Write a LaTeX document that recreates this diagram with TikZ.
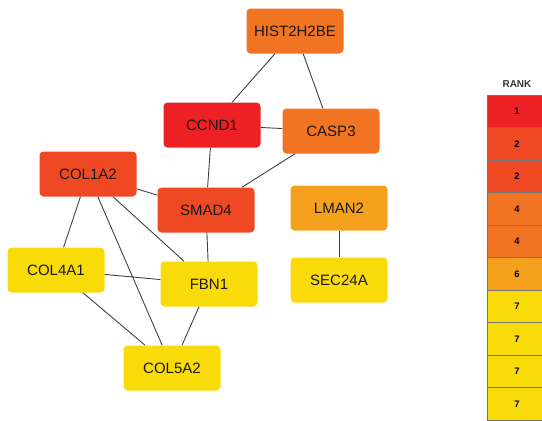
\documentclass[tikz,border=0pt]{standalone}
\usepackage{fontspec}
\setmainfont{Liberation Sans}
\usepackage{tikz}
\usetikzlibrary{positioning}

\definecolor{rankone}{HTML}{ED2024}
\definecolor{ranktwo}{HTML}{EE4923}
\definecolor{rankfour}{HTML}{F17423}
\definecolor{ranksix}{HTML}{F6A11E}
\definecolor{rankseven}{HTML}{FADB0A}

\begin{document}
\begin{tikzpicture}[x=1pt, y=-1pt,
	gene/.style={rounded corners=4pt, minimum width=97pt, minimum height=45pt, font=\fontsize{15}{15}\selectfont, text=black!90},
	link/.style={draw=black!75, line width=0.9pt},
	cell/.style={draw=black!55, line width=0.7pt, minimum width=60pt, minimum height=32.5pt, font=\bfseries\fontsize{9.5}{9.5}\selectfont, inner sep=0pt}]

\useasboundingbox (0,0) rectangle (542,421);
\clip (0,0) rectangle (542,421);

\node [gene, fill=rankfour] (HIST2H2BE) at (295,31) {HIST2H2BE};
\node [gene, fill=rankone] (CCND1) at (212,125) {CCND1};
\node [gene, fill=rankfour] (CASP3) at (331,131) {CASP3};
\node [gene, fill=ranktwo] (COL1A2) at (88,174) {COL1A2};
\node [gene, fill=ranktwo] (SMAD4) at (206,210) {SMAD4};
\node [gene, fill=ranksix] (LMAN2) at (339,208) {LMAN2};
\node [gene, fill=rankseven] (SEC24A) at (339,280) {SEC24A};
\node [gene, fill=rankseven] (COL4A1) at (56,270) {COL4A1};
\node [gene, fill=rankseven] (FBN1) at (209,284) {FBN1};
\node [gene, fill=rankseven] (COL5A2) at (172,368) {COL5A2};

\path [link] (HIST2H2BE) -- (CCND1);
\path [link] (HIST2H2BE) -- (CASP3);
\path [link] (CCND1) -- (CASP3);
\path [link] (CCND1) -- (SMAD4);
\path [link] (CASP3) -- (SMAD4);
\path [link] (COL1A2) -- (SMAD4);
\path [link] (SMAD4) -- (FBN1);
\path [link] (COL1A2) -- (COL4A1);
\path [link] (COL1A2) -- (FBN1);
\path [link] (COL1A2) -- (COL5A2);
\path [link] (COL4A1) -- (FBN1);
\path [link] (COL4A1) -- (COL5A2);
\path [link] (FBN1) -- (COL5A2);
\path [link] (LMAN2) -- (SEC24A);

% rank legend
\node [font=\bfseries\fontsize{10}{10}\selectfont, text=black!80] (rank) at (517,84) {RANK};
\foreach \r/\c [count=\i] in {1/rankone, 2/ranktwo, 2/ranktwo, 4/rankfour, 4/rankfour, 6/ranksix, 7/rankseven, 7/rankseven, 7/rankseven, 7/rankseven}
	\node [cell, fill=\c] (cell\i) at (517,{111.25+(\i-1)*32.5}) {\r};

\end{tikzpicture}
\end{document}
